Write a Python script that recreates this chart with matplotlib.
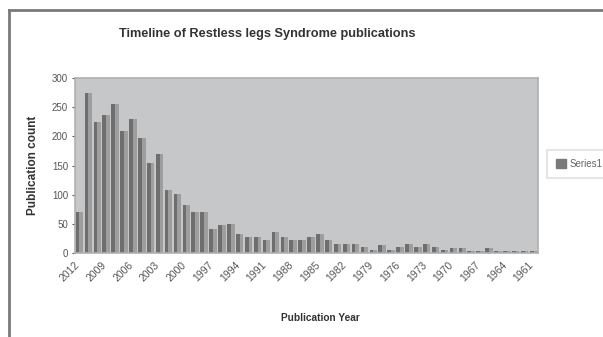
import matplotlib
matplotlib.use("Agg")
import matplotlib.pyplot as plt
from matplotlib.lines import Line2D
from matplotlib.patches import Rectangle
from matplotlib.transforms import ScaledTranslation
import numpy as np

years = list(range(2012, 1960, -1))
counts = [70, 275, 225, 237, 255, 210, 230, 198, 155, 170,
          108, 102, 82, 70, 71, 42, 48, 50, 32, 27,
          27, 22, 36, 27, 22, 22, 27, 32, 22, 15,
          15, 15, 10, 6, 14, 6, 10, 15, 10, 15,
          10, 5, 8, 8, 4, 4, 8, 4, 4, 4,
          4, 3]
title = "Timeline of Restless legs Syndrome publications"
xlabel = "Publication Year"
ylabel = "Publication count"
series_name = "Series1"

plt.rcParams['font.family'] = ['Liberation Sans', 'DejaVu Sans']

fig = plt.figure(figsize=(6.03, 3.37), dpi=100)
fig.patch.set_facecolor('white')
ax = fig.add_axes([75/603, 1-253/337, (538-75)/603, (253-78)/337])
ax.set_facecolor('#c6c7c9')

x = np.arange(len(years))
ax.bar(x - 0.21, counts, width=0.42, color='#6e6e6e', linewidth=0)
ax.bar(x + 0.21, counts, width=0.42, color='#9e9e9e', linewidth=0)

ax.set_xlim(-0.5, len(years) - 0.5)
ax.set_ylim(0, 300)
ax.set_yticks(range(0, 301, 50))
ax.tick_params(axis='y', labelsize=7, colors='#555555', length=2, pad=3)
ax.set_xticks(x[::3])
ax.set_xticklabels([str(y) for y in years[::3]], rotation=45, ha='right',
                   rotation_mode='anchor', fontsize=7.5, color='#555555')
ax.tick_params(axis='x', length=0, pad=5)
off = ScaledTranslation(-5/100, 0, fig.dpi_scale_trans)
for lbl in ax.get_xticklabels():
    lbl.set_transform(lbl.get_transform() + off)
for s in ax.spines.values():
    s.set_color('#b0b0b0')
    s.set_linewidth(1.2)

fig.text(33/603, 1-165/337, ylabel, ha='center', va='center', rotation=90,
         fontsize=8.5, fontweight='bold', color='#333333')
fig.text(320/603, 1-318/337, xlabel, ha='center', va='center', fontsize=7.3,
         fontweight='bold', color='#333333')
fig.text(267/603, 1-34/337, title, ha='center', va='center', fontsize=9.2,
         fontweight='bold', color='#333333')

# outer chart frame (cropped at right and bottom)
fig.add_artist(Line2D([9/603, 9/603], [0, 1-10/337], transform=fig.transFigure,
                      color='#7a7a7a', linewidth=2))
fig.add_artist(Line2D([9/603, 1], [1-10/337, 1-10/337], transform=fig.transFigure,
                      color='#7a7a7a', linewidth=2))

handle = Rectangle((0, 0), 1, 1, facecolor='#7a7a7a', edgecolor='#7a7a7a')
leg = fig.legend([handle], [series_name], loc='center left',
                 bbox_to_anchor=(547/603, 1-164/337), fontsize=7,
                 frameon=True, fancybox=False, handlelength=1.1, handleheight=1.0,
                 borderpad=0.9, handletextpad=0.3, borderaxespad=0)
leg.get_frame().set_edgecolor('#e0e0e0')
leg.get_frame().set_linewidth(1.5)
for t in leg.get_texts():
    t.set_color('#666666')

fig.savefig('out.png', dpi=100)
